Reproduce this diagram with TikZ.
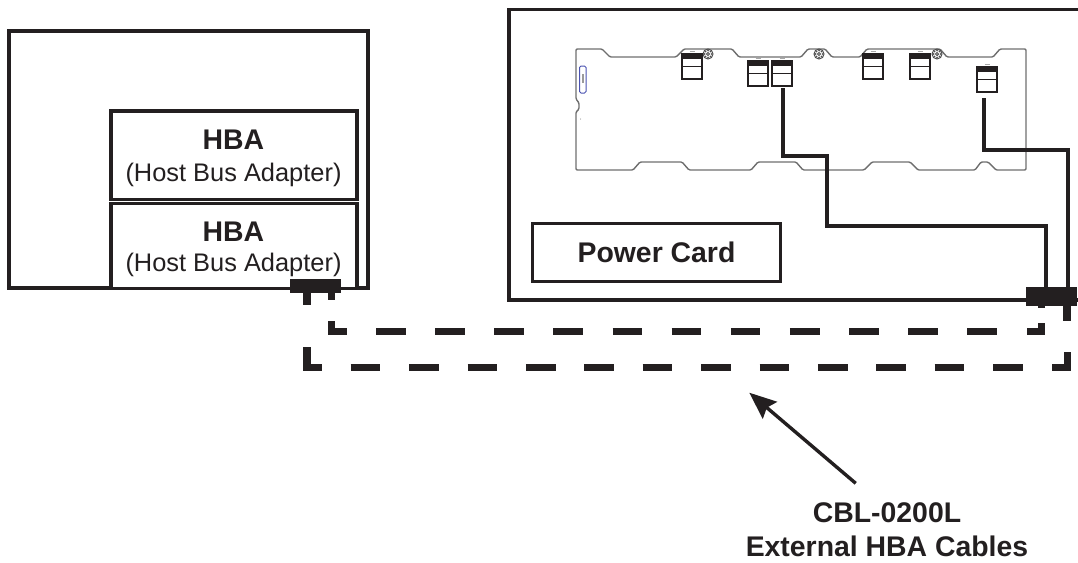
\documentclass[tikz,border=0pt]{standalone}
\usepackage{fontspec}
\setmainfont{Liberation Sans}
\usetikzlibrary{arrows.meta}
\definecolor{inkblack}{HTML}{231F20}
\definecolor{boardgray}{HTML}{6E6E6E}
\definecolor{markblue}{HTML}{4A52B0}
\tikzset{
  hostbox/.style={draw=inkblack, line width=3.6pt, minimum width=#1, inner sep=0pt},
  boldlabel/.style={text=inkblack, inner sep=0pt, font=\bfseries\fontsize{28.4}{34}\selectfont},
  thinlabel/.style={text=inkblack, inner sep=0pt, font=\fontsize{25.4}{30}\selectfont},
  port/.style={draw=inkblack, line width=1.1pt, minimum width=20pt, minimum height=25pt, inner sep=0pt},
  hub/.style={fill=inkblack, inner sep=0pt},
  cable/.style={draw=inkblack, line width=4pt},
  extcable/.style={draw=inkblack, line width=7.4pt},
  extdash/.style={extcable, dash pattern=on 29.6pt off #1},
  board/.style={draw=boardgray, line width=1.4pt, rounded corners=1.2pt}
}
\begin{document}
\begin{tikzpicture}[x=1pt, y=-1pt]
\useasboundingbox (0,0) rectangle (1078,562);

% host chassis and adapters
\draw[inkblack, line width=3.6pt] (9,31) rectangle (367.7,287.7);
\node[hostbox=246pt, minimum height=88.6pt, fill=white] (hbaA) at (233.7,155) {};
\node[hostbox=246pt, minimum height=85pt, fill=white] (hbaB) at (233.7,245.8) {};
\node[boldlabel] (hbaAtitle) at (233.5,140) {HBA};
\node[thinlabel] (hbaAtext) at (233.5,175) {(Host Bus Adapter)};
\node[boldlabel] (hbaBtitle) at (233.5,231.5) {HBA};
\node[thinlabel] (hbaBtext) at (233.5,265) {(Host Bus Adapter)};

% storage chassis, open on the right
\draw[inkblack, line width=3.6pt] (1078,9.5) -- (509,9.5) -- (509,300) -- (1078,300);
\node[draw=inkblack, line width=3.6pt, minimum width=248pt, minimum height=58pt, boldlabel] (powercard) at (656.5,252.5) {Power Card};

% backplane outline
\draw[board] (576,49) -- (602,49) -- (610,57) -- (676,57) -- (684,49) -- (732,49) -- (739,57)
  -- (801,57) -- (808,49) -- (825,49) -- (832,57) -- (860,57) -- (867,49) -- (940,49) -- (947,57)
  -- (993,57) -- (1000,49) -- (1026,49) -- (1026,170) -- (996,170) -- (988,162) -- (981,162)
  -- (975,170) -- (918,170) -- (910,162) -- (872,162) -- (864,170) -- (803,170) -- (796,162)
  -- (758,162) -- (751,170) -- (689,170) -- (682,162) -- (640,162) -- (633,170) -- (576,170)
  -- (576,112) -- (579,109) -- (579,103) -- (576,99) -- cycle;
\draw[markblue, line width=1pt, rounded corners=1.5pt] (579.5,66) rectangle (586,93);
\fill[boardgray!70] (581.5,74) rectangle (584,83);
\fill[boardgray] (580.5,119) circle (0.5pt);

% screw holes
\foreach \sx/\sy in {708/54, 819/54, 937/54} {
  \draw[boardgray!70!black, line width=1pt] (\sx,\sy) circle (5pt);
  \draw[boardgray!70!black, line width=0.9pt] (\sx,\sy) circle (1.6pt);
  \foreach \a in {0,45,...,315}
    \fill[boardgray!70!black] (\sx,\sy) ++(\a:3.4pt) circle (0.9pt);
}

% connectors on the backplane
\foreach \nm/\px/\py in {portA/692/66.5, portB/758/73.5, portC/782/73.5, portD/873/66.5, portE/920/66.5, portF/987/79.5} {
  \node[port] (\nm) at (\px,\py) {};
  \fill[inkblack] ([xshift=2pt,yshift=-1pt]\nm.north west) rectangle ([xshift=-2pt,yshift=-6pt]\nm.north east);
  \draw[inkblack, line width=1.1pt] ([yshift=-13pt]\nm.north west) -- ([yshift=-13pt]\nm.north east);
  \draw[boardgray!60, line width=0.6pt] ([xshift=-2.5pt,yshift=2pt]\nm.north) -- ([xshift=2.5pt,yshift=2pt]\nm.north);
}

% cable ends in the two chassis
\node[hub, minimum width=51pt, minimum height=14pt] (hubL) at (315.5,286) {};
\node[hub, minimum width=51pt, minimum height=19pt] (hubR) at (1051.5,296.5) {};

% inside cables
\coordinate (capC) at (782.7,88);
\coordinate (capF) at (984,98);
\draw[cable] (capC) |- (826.7,156) |- (1045.7,226) -- (1045.7,0 |- hubR.north);
\draw[cable] (capF) |- (1067.7,150) -- (1067.7,0 |- hubR.north);

% outside cables
\coordinate (stubLa) at (307,305);
\coordinate (stubLb) at (331.5,300);
\coordinate (stubRa) at (1041.5,307.7);
\coordinate (stubRb) at (1066.8,320.7);
\draw[extcable] (307,0 |- hubL.south) -- (stubLa);
\draw[extcable] (331.5,0 |- hubL.south) -- (stubLb);
\draw[extcable] (1041.5,0 |- hubR.south) -- (stubRa);
\draw[extcable] (1066.8,0 |- hubR.south) -- (stubRb);

\coordinate (innerLtop) at (331.5,321);
\coordinate (innerRtop) at (1041.5,323.3);
\coordinate (outerLtop) at (307,347.3);
\coordinate (outerRtop) at (1067.2,352.3);
\draw[extcable] (innerLtop) |- (346.5,331.2);
\draw[extcable] (innerRtop) |- (1026.7,331.2);
\draw[extcable] (outerLtop) |- (321.7,367.5);
\draw[extcable] (outerRtop) |- (1052,367.5);
\draw[extdash=29.53pt] (376,331.2) -- (997,331.2);
\draw[extdash=28.8pt] (350.7,367.5) -- (1023,367.5);

% callout
\node[boldlabel] (partno) at (887,512.3) {CBL-0200L};
\node[boldlabel] (partname) at (887,546.7) {External HBA Cables};
\coordinate (calloutend) at (855.7,483.3);
\coordinate (callouttip) at (749.3,392.7);
\draw[inkblack, line width=3.4pt, -{Stealth[length=27pt,width=22pt,inset=4pt]}] (calloutend) -- (callouttip);
\end{tikzpicture}
\end{document}
